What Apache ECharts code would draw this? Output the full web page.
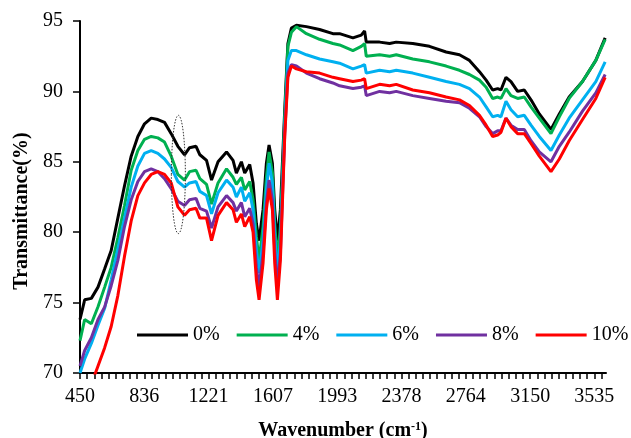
<!DOCTYPE html>
<html>
<head>
<meta charset="utf-8">
<script src="https://cdn.jsdelivr.net/npm/echarts@6/dist/echarts.min.js"></script>
<style>
html,body{margin:0;padding:0;background:#fff;}
#main{width:631px;height:438px;}
</style>
</head>
<body>
<div id="main"></div>
<script>
var wavenumber = [450, 478, 518, 558, 598, 637, 677, 717, 757, 797, 837, 877, 917, 957, 997, 1037, 1077, 1107, 1146, 1169,
	1209, 1239, 1278, 1329, 1368, 1388, 1418, 1438, 1468, 1488, 1508, 1524, 1548, 1568, 1584, 1604, 1618, 1634, 1652, 1678,
	1697, 1718, 1748, 1808, 1887, 1967, 2007, 2087, 2137, 2157, 2167, 2247, 2307, 2347, 2446, 2546, 2646, 2726, 2786, 2846,
	2886, 2925, 2955, 2975, 3005, 3035, 3075, 3115, 3155, 3205, 3275, 3325, 3384, 3464, 3544, 3600];

var s0 = [73.8, 75.2, 75.3, 76.1, 77.4, 78.7, 81.0, 83.3, 85.4, 86.8, 87.7, 88.1, 88.0, 87.8, 87.0, 86.1, 85.5, 86.0, 86.1, 85.5,
	85.1, 83.7, 85.0, 85.7, 85.1, 84.2, 85.0, 84.2, 84.8, 83.5, 80.6, 79.4, 81.6, 84.9, 86.2, 84.9, 81.6, 79.4, 81.6, 88.7,
	93.4, 94.5, 94.7, 94.6, 94.4, 94.1, 94.1, 93.8, 94.0, 94.3, 93.5, 93.5, 93.4, 93.5, 93.4, 93.2, 92.8, 92.6, 92.2, 91.4,
	90.8, 90.1, 90.2, 90.1, 91.0, 90.7, 90.0, 90.1, 89.4, 88.4, 87.3, 88.4, 89.6, 90.7, 92.2, 93.8];
var s4 = [72.3, 73.8, 73.5, 74.7, 76.1, 77.5, 79.6, 81.9, 84.4, 85.8, 86.6, 86.8, 86.7, 86.4, 85.4, 84.1, 83.7, 84.3, 84.4, 83.8,
	83.4, 82.0, 83.5, 84.5, 83.9, 83.4, 83.9, 83.0, 83.6, 82.3, 79.7, 78.0, 80.4, 83.9, 85.7, 84.2, 80.6, 78.0, 80.4, 88.2,
	93.2, 94.2, 94.6, 94.1, 93.7, 93.4, 93.3, 92.9, 93.2, 93.4, 92.5, 92.6, 92.5, 92.6, 92.3, 92.1, 91.8, 91.5, 91.2, 90.8,
	90.3, 89.5, 89.6, 89.5, 90.2, 89.7, 89.5, 89.6, 88.9, 88.1, 87.0, 88.2, 89.5, 90.7, 92.2, 93.7];
var s6 = [70.0, 71.0, 72.1, 73.4, 74.6, 76.6, 78.8, 81.0, 83.2, 84.7, 85.6, 85.8, 85.6, 85.2, 84.6, 83.6, 83.2, 83.5, 83.6, 82.9,
	82.6, 81.3, 82.8, 83.7, 83.2, 82.5, 83.2, 82.2, 82.8, 81.6, 78.7, 77.1, 79.4, 83.0, 84.9, 83.5, 79.7, 77.1, 79.4, 87.5,
	92.2, 92.9, 92.9, 92.6, 92.3, 92.1, 92.0, 91.6, 91.8, 91.9, 91.3, 91.5, 91.4, 91.5, 91.3, 91.0, 90.7, 90.5, 90.2, 89.6,
	88.9, 88.2, 88.3, 88.2, 89.3, 88.7, 88.2, 88.3, 87.6, 86.8, 85.8, 86.9, 88.1, 89.4, 90.7, 92.1];
var s8 = [70.5, 71.6, 72.5, 73.8, 74.7, 76.2, 78.0, 80.4, 82.3, 83.6, 84.3, 84.5, 84.3, 83.8, 83.1, 82.2, 81.9, 82.3, 82.4, 81.7,
	81.5, 80.3, 81.8, 82.6, 82.1, 81.5, 82.1, 81.1, 81.7, 80.6, 77.5, 76.1, 78.5, 82.1, 83.7, 82.3, 78.7, 76.1, 78.5, 87.0,
	91.3, 91.9, 91.8, 91.3, 90.9, 90.6, 90.4, 90.2, 90.3, 90.4, 89.7, 90.0, 89.9, 90.0, 89.7, 89.5, 89.3, 89.2, 88.8, 88.2,
	87.5, 87.0, 87.2, 87.2, 88.1, 87.6, 87.3, 87.3, 86.5, 85.7, 85.0, 86.1, 87.1, 88.6, 89.9, 91.2];
var s10 = [67.0, 68.0, 69.2, 70.5, 71.8, 73.3, 75.5, 78.3, 80.8, 82.6, 83.5, 84.1, 84.3, 84.1, 83.5, 81.8, 81.2, 81.6, 81.7, 81.0,
	81.0, 79.4, 81.2, 82.1, 81.6, 80.7, 81.3, 80.4, 81.1, 80.0, 76.6, 75.2, 77.8, 81.6, 83.1, 81.6, 77.8, 75.2, 78.0, 86.8,
	91.0, 91.8, 91.6, 91.4, 91.3, 91.0, 90.9, 90.7, 90.8, 90.9, 90.2, 90.5, 90.4, 90.5, 90.1, 89.9, 89.6, 89.4, 89.0, 88.3,
	87.6, 86.8, 86.9, 87.1, 88.1, 87.5, 87.0, 87.0, 86.3, 85.4, 84.3, 85.2, 86.5, 88.0, 89.5, 91.0];

var seriesNames = ['0%', '4%', '6%', '8%', '10%'];
var seriesColors = ['#000000', '#00B050', '#00B0F0', '#7030A0', '#FF0000'];
var xLabels = [450, 836, 1221, 1607, 1993, 2378, 2764, 3150, 3535];
// dotted ring around the band near 1040 cm-1 (centre x, centre y, half width, half height in data units)
var ring = [1040, 84.1, 42, 4.2];

var font = 'Times New Roman, Liberation Serif, serif';

// minor ticks: 9 per labelled interval
var xTicks = [];
for (var i = 0; i < xLabels.length - 1; i++) {
	for (var k = 0; k < 9; k++) {
		xTicks.push(xLabels[i] + (xLabels[i + 1] - xLabels[i]) * k / 9);
	}
}
xTicks.push(3535, 3578);

function pairs(ys) {
	return wavenumber.map(function (x, i) { return [x, ys[i]]; });
}
var allData = [s0, s4, s6, s8, s10];

var chart = echarts.init(document.getElementById('main'));

var option = {
	backgroundColor: '#ffffff',
	animation: false,
	grid: {
		left: 80,
		right: 25,
		top: 21,
		bottom: 65,
		containLabel: false,
		outerBoundsMode: 'none'
	},
	legend: {
		left: 137,
		top: 325,
		width: 494,
		padding: 0,
		icon: 'rect',
		itemWidth: 51,
		itemHeight: 3,
		itemGap: 17,
		data: seriesNames,
		textStyle: { fontFamily: font, fontSize: 20, color: '#000' }
	},
	xAxis: {
		type: 'value',
		min: 450,
		max: 3605,
		name: 'Wavenumber (cm{sup|-1})',
		nameLocation: 'middle',
		nameGap: 48,
		nameTextStyle: {
			fontFamily: font,
			fontSize: 20,
			fontWeight: 'bold',
			color: '#000',
			rich: {
				sup: { fontFamily: font, fontSize: 12, fontWeight: 'bold', color: '#000', verticalAlign: 'top', padding: [0, 0, 8, 0] }
			}
		},
		axisLine: { lineStyle: { color: '#000', width: 2 } },
		axisTick: { show: true, length: 6, lineStyle: { color: '#000', width: 1.5 }, customValues: xTicks },
		splitLine: { show: false },
		axisLabel: {
			customValues: xLabels,
			fontFamily: font,
			fontSize: 20,
			color: '#000',
			margin: 14,
			formatter: function (v) { return Math.round(v); }
		}
	},
	yAxis: {
		type: 'value',
		min: 70,
		max: 95,
		interval: 5,
		name: 'Transmittance(%)',
		nameLocation: 'middle',
		nameGap: 47,
		nameTextStyle: { fontFamily: font, fontSize: 20, fontWeight: 'bold', color: '#000', padding: [0, 28, 0, 0] },
		axisLine: { show: true, lineStyle: { color: '#000', width: 2 } },
		axisTick: { show: true, length: 7, lineStyle: { color: '#000', width: 1.5 } },
		splitLine: { show: false },
		axisLabel: { fontFamily: font, fontSize: 20, color: '#000', margin: 17 }
	},
	series: seriesNames.map(function (n, i) {
		return {
			name: n,
			type: 'line',
			data: pairs(allData[i]),
			symbol: 'none',
			showSymbol: false,
			clip: true,
			color: seriesColors[i],
			lineStyle: { color: seriesColors[i], width: 3 }
		};
	})
};
chart.setOption(option);

var c = chart.convertToPixel({ gridIndex: 0 }, [ring[0], ring[1]]);
var e = chart.convertToPixel({ gridIndex: 0 }, [ring[0] + ring[2], ring[1] + ring[3]]);
chart.setOption({
	graphic: [{
		type: 'ellipse',
		shape: { cx: c[0], cy: c[1], rx: Math.abs(e[0] - c[0]), ry: Math.abs(c[1] - e[1]) },
		style: { fill: 'none', stroke: '#333', lineWidth: 1, lineDash: [1.5, 1.5] },
		z: 100
	}]
});
</script>
</body>
</html>
